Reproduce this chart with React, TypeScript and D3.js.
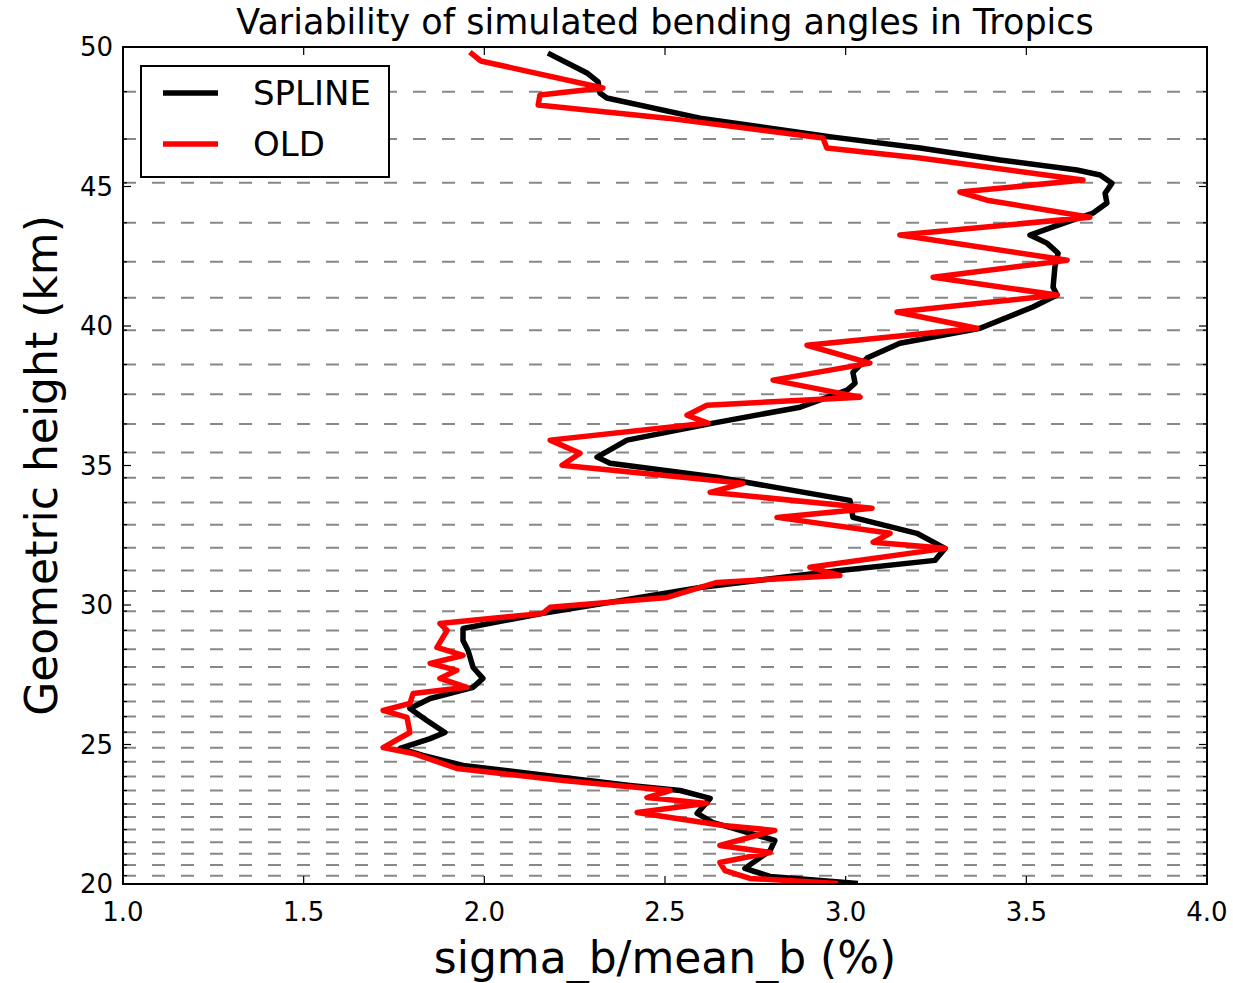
import React from "react";
import * as d3 from "d3";

const splineHeight = [49.78,49.07,48.75,48.35,48.17,47.45,46.77,46.38,45.95,45.59,45.41,45.12,44.76,44.41,44.05,43.55,43.26,42.97,42.61,42.11,41.39,41.11,40.68,39.92,39.38,38.85,38.34,37.95,37.70,37.09,36.52,35.91,35.30,35.08,34.58,33.75,33.14,32.57,32.03,31.60,31.24,30.63,29.70,29.16,28.73,28.37,27.76,27.37,27.05,26.65,26.29,25.86,25.43,25.21,24.86,24.61,24.25,23.82,23.53,23.35,23.07,22.53,22.20,22.03,21.56,21.20,20.56,20.27,20.02];
const splineValue = [2.176,2.284,2.315,2.320,2.339,2.597,2.965,3.206,3.427,3.640,3.704,3.737,3.718,3.723,3.685,3.574,3.510,3.557,3.588,3.579,3.574,3.585,3.518,3.372,3.150,3.059,3.020,3.026,3.004,2.874,2.633,2.395,2.312,2.348,2.644,3.012,3.020,3.197,3.275,3.247,2.984,2.597,2.162,1.941,1.941,1.955,1.969,1.996,1.969,1.850,1.794,1.841,1.891,1.850,1.767,1.830,1.941,2.218,2.403,2.542,2.625,2.589,2.633,2.680,2.804,2.791,2.721,2.791,3.034];

const oldHeight = [49.82,49.50,48.53,48.28,47.92,47.45,46.74,46.38,46.02,45.23,44.80,44.51,43.90,43.26,42.36,41.75,41.11,40.50,39.92,39.31,38.67,38.06,37.45,37.16,36.80,36.52,35.91,35.44,35.01,34.36,34.04,33.47,33.14,32.57,32.25,32.03,31.35,31.06,30.81,30.27,29.92,29.70,29.34,29.09,28.48,28.19,27.91,27.66,27.37,27.05,26.83,26.47,26.22,25.97,25.43,24.89,24.68,24.14,23.71,23.35,23.10,22.89,22.56,22.10,21.92,21.38,21.13,20.77,20.48,20.20,20.02];
const oldValue = [1.960,1.990,2.328,2.154,2.149,2.506,2.937,2.948,3.206,3.657,3.316,3.391,3.676,3.150,3.613,3.242,3.585,3.142,3.363,2.893,3.067,2.799,3.040,2.616,2.561,2.619,2.182,2.265,2.215,2.716,2.625,3.073,2.810,3.123,3.076,3.275,2.901,2.984,2.644,2.506,2.182,2.162,1.877,1.897,1.869,1.941,1.850,1.924,1.877,1.952,1.803,1.794,1.720,1.786,1.794,1.720,1.803,1.924,2.218,2.514,2.450,2.616,2.423,2.661,2.804,2.652,2.791,2.652,2.666,2.735,2.979];

const levelHeights = [48.40,46.70,45.13,43.70,42.30,41.01,39.85,38.62,37.55,36.49,35.47,34.56,33.67,32.88,32.05,31.24,30.50,29.78,29.09,28.41,27.78,27.15,26.54,26.00,25.44,24.88,24.38,23.85,23.35,22.87,22.40,21.95,21.50,21.08,20.68,20.30];

const xTicks = [1.0, 1.5, 2.0, 2.5, 3.0, 3.5, 4.0];
const yTicks = [20, 25, 30, 35, 40, 45, 50];

const seriesNames = ["SPLINE", "OLD"];
const seriesColors = ["#000000", "#ff0000"];

const title = "Variability of simulated bending angles in Tropics";
const xLabel = "sigma_b/mean_b (%)";
const yLabel = "Geometric height (km)";

export default function App() {
  const W = 1233, H = 983;
  const L = 123, R = 1207, T = 47, B = 884;
  const x = d3.scaleLinear().domain([1, 4]).range([L, R]);
  const y = d3.scaleLinear().domain([20, 50]).range([B, T]);
  const line = d3.line<[number, number]>().x(d => x(d[0])).y(d => y(d[1]));
  const splinePts: [number, number][] = splineValue.map((v, i) => [v, splineHeight[i]]);
  const oldPts: [number, number][] = oldValue.map((v, i) => [v, oldHeight[i]]);
  const font = "'DejaVu Sans', sans-serif";
  const clipId = "plotclip";
  return (
    <svg width={W} height={H} style={{ position: "absolute", left: 0, top: 0, background: "#fff" }} fontFamily={font}>
      <defs>
        <clipPath id={clipId}><rect x={L} y={T} width={R - L} height={B - T} /></clipPath>
      </defs>
      <rect x={0} y={0} width={W} height={H} fill="#fff" />
      {levelHeights.map((h, i) => (
        <line key={"g" + i} x1={L} x2={R} y1={y(h)} y2={y(h)} stroke="#888" strokeWidth={2} strokeDasharray="13,16" />
      ))}
      <g clipPath={`url(#${clipId})`}>
        <path d={line(splinePts) || ""} fill="none" stroke={seriesColors[0]} strokeWidth={5.5} strokeLinejoin="round" />
        <path d={line(oldPts) || ""} fill="none" stroke={seriesColors[1]} strokeWidth={5.5} strokeLinejoin="round" />
      </g>
      {levelHeights.map((h, i) => (
        <g key={"mt" + i}>
          <line x1={L} x2={L + 4} y1={y(h)} y2={y(h)} stroke="#000" strokeWidth={1.2} />
          <line x1={R} x2={R - 4} y1={y(h)} y2={y(h)} stroke="#000" strokeWidth={1.2} />
        </g>
      ))}
      {xTicks.map((t, i) => (
        <g key={"xt" + i}>
          <line x1={x(t)} x2={x(t)} y1={B} y2={B - 8} stroke="#000" strokeWidth={1.2} />
          <line x1={x(t)} x2={x(t)} y1={T} y2={T + 8} stroke="#000" strokeWidth={1.2} />
          <text x={x(t)} y={B + 37} textAnchor="middle" fontSize={26} fill="#000">{t.toFixed(1)}</text>
        </g>
      ))}
      {yTicks.map((t, i) => (
        <g key={"yt" + i}>
          <line x1={L} x2={L + 8} y1={y(t)} y2={y(t)} stroke="#000" strokeWidth={1.2} />
          <line x1={R} x2={R - 8} y1={y(t)} y2={y(t)} stroke="#000" strokeWidth={1.2} />
          <text x={L - 10} y={y(t) + 9} textAnchor="end" fontSize={26} fill="#000">{t}</text>
        </g>
      ))}
      <rect x={L} y={T} width={R - L} height={B - T} fill="none" stroke="#000" strokeWidth={2} />
      <g>
        <rect x={141} y={66} width={248} height={111} fill="#fff" stroke="#000" strokeWidth={2} />
        {seriesNames.map((n, i) => (
          <g key={"lg" + i}>
            <line x1={163} x2={218} y1={93 + i * 51} y2={93 + i * 51} stroke={seriesColors[i]} strokeWidth={5.5} />
            <text x={253} y={93 + i * 51 + 12} fontSize={34} fill="#000">{n}</text>
          </g>
        ))}
      </g>
      <text x={(L + R) / 2} y={34} textAnchor="middle" fontSize={35} fill="#000">{title}</text>
      <text x={(L + R) / 2} y={973} textAnchor="middle" fontSize={44} fill="#000">{xLabel}</text>
      <text transform={`translate(57,${(T + B) / 2}) rotate(-90)`} textAnchor="middle" fontSize={44} fill="#000">{yLabel}</text>
    </svg>
  );
}
